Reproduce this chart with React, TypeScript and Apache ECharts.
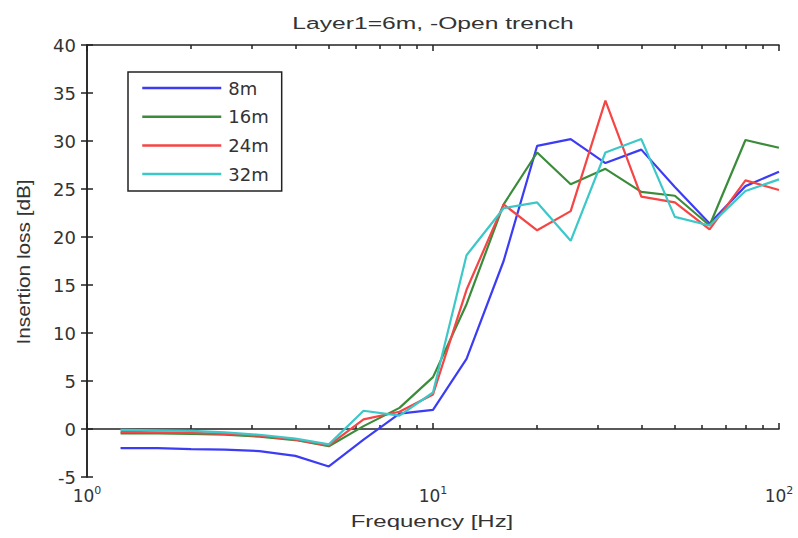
import React, { useEffect, useRef } from 'react';
import * as echarts from 'echarts';

const frequencies = [1.25, 1.6, 2, 2.5, 3.15, 4, 5, 6.3, 8, 10, 12.5, 16, 20, 25, 31.5, 40, 50, 63, 80, 100];
const seriesNames = ['8m', '16m', '24m', '32m'];
const loss8m = [-2.0, -2.0, -2.1, -2.15, -2.3, -2.8, -3.9, -1.1, 1.6, 2.0, 7.3, 17.5, 29.5, 30.2, 27.7, 29.1, 25.2, 21.4, 25.3, 26.8];
const loss16m = [-0.45, -0.45, -0.5, -0.6, -0.8, -1.15, -1.8, 0.3, 2.2, 5.4, 13.0, 23.4, 28.8, 25.5, 27.1, 24.7, 24.3, 21.2, 30.1, 29.3];
const loss24m = [-0.3, -0.35, -0.4, -0.5, -0.7, -1.1, -1.7, 1.0, 1.8, 3.6, 14.5, 23.4, 20.7, 22.7, 34.2, 24.2, 23.6, 20.8, 25.9, 24.9];
const loss32m = [-0.1, -0.15, -0.2, -0.35, -0.6, -1.0, -1.6, 1.9, 1.4, 3.8, 18.1, 23.0, 23.6, 19.6, 28.8, 30.2, 22.1, 21.2, 24.8, 26.0];
const seriesValues = [loss8m, loss16m, loss24m, loss32m];
const seriesColors = ['#3c3cf5', '#3a8c3a', '#f54545', '#3cc8c8'];
const minorTickFreqs = [2, 3, 4, 5, 6, 7, 8, 9, 20, 30, 40, 50, 60, 70, 80, 90];
const titleText = 'Layer1=6m, -Open trench';
const xName = 'Frequency [Hz]';
const yName = 'Insertion loss [dB]';

const FONT = 'Liberation Sans, Arial, sans-serif';
const WIDE = 'DejaVu Sans, sans-serif';
const AXIS_COLOR = '#222';
const TEXT_COLOR = '#333';

export default function App() {
  const ref = useRef<HTMLDivElement>(null);
  useEffect(() => {
    document.body.style.margin = '0';
    if (!ref.current) return;
    const chart = echarts.init(ref.current, undefined, { renderer: 'svg' });
    const minorLog = minorTickFreqs.map((f) => Math.log10(f));
    const lineStyle = { color: AXIS_COLOR, width: 1.5 };
    const option: any = {
      animation: false,
      backgroundColor: '#fff',
      textStyle: { fontFamily: FONT },
      graphic: [
        {
          type: 'text',
          x: 433,
          y: 14,
          scaleX: 1.45,
          style: { text: titleText, textAlign: 'center', textVerticalAlign: 'top', fontSize: 17, fontFamily: FONT, fill: TEXT_COLOR },
        },
        {
          type: 'text',
          x: 432,
          y: 514,
          scaleX: 1.5,
          style: { text: xName, textAlign: 'center', textVerticalAlign: 'top', fontSize: 16, fontFamily: FONT, fill: TEXT_COLOR },
        },
        {
          type: 'text',
          x: 23,
          y: 262,
          rotation: Math.PI / 2,
          scaleX: 1.3,
          scaleY: 1.15,
          style: { text: yName, textAlign: 'center', textVerticalAlign: 'middle', fontSize: 16, fontFamily: FONT, fill: TEXT_COLOR },
        },
      ],
      grid: { left: 87, right: 19, top: 45, bottom: 61, containLabel: false },
      legend: {
        orient: 'vertical',
        left: 128,
        top: 72,
        data: seriesNames,
        itemWidth: 79,
        itemHeight: 18,
        itemGap: 10.7,
        padding: [7, 13, 8, 13],
        borderColor: AXIS_COLOR,
        borderWidth: 1.5,
        backgroundColor: '#fff',
        itemStyle: { opacity: 0 },
        lineStyle: { width: 2.5 },
        textStyle: { fontSize: 18, color: TEXT_COLOR, fontFamily: WIDE, padding: [0, 0, 0, 2] },
      },
      xAxis: [
        {
          type: 'log',
          logBase: 10,
          min: 1,
          max: 100,
          position: 'bottom',
          axisLine: { show: true, lineStyle },
          axisTick: { show: true, inside: true, length: 6, lineStyle },
          splitLine: { show: false },
          axisLabel: {
            margin: 8,
            formatter: (v: number) => `{b|10}{s|${Math.round(Math.log10(v))}}`,
            rich: {
              b: { fontSize: 17, color: TEXT_COLOR, fontFamily: WIDE, lineHeight: 22 },
              s: { fontSize: 11, color: TEXT_COLOR, fontFamily: WIDE, verticalAlign: 'top', lineHeight: 22, padding: [0, 0, 8, 0] },
            },
          },
        },
        {
          type: 'value',
          min: 0,
          max: 2,
          position: 'bottom',
          axisLine: { show: false },
          axisTick: { show: true, inside: true, length: 4, lineStyle, customValues: minorLog },
          axisLabel: { show: false },
          splitLine: { show: false },
        },
        {
          type: 'value',
          min: 0,
          max: 2,
          position: 'top',
          axisLine: { show: true, lineStyle },
          axisTick: { show: true, inside: true, length: 4, lineStyle, customValues: minorLog },
          axisLabel: { show: false },
          splitLine: { show: false },
        },
        {
          type: 'log',
          logBase: 10,
          min: 1,
          max: 100,
          position: 'top',
          axisLine: { show: false },
          axisTick: { show: true, inside: true, length: 6, lineStyle },
          axisLabel: { show: false },
          splitLine: { show: false },
        },
      ],
      yAxis: [
        {
          type: 'value',
          min: -5,
          max: 40,
          interval: 5,
          position: 'left',
          axisLine: { show: true, lineStyle },
          axisTick: { show: true, inside: true, length: 6, lineStyle },
          splitLine: { show: false },
          axisLabel: { fontSize: 18, color: TEXT_COLOR, margin: 11, fontFamily: WIDE },
        },
        {
          type: 'value',
          min: -5,
          max: 40,
          interval: 5,
          position: 'right',
          axisLine: { show: true, lineStyle },
          axisTick: { show: true, inside: true, length: 6, lineStyle },
          splitLine: { show: false },
          axisLabel: { show: false },
        },
      ],
      series: seriesNames.map((name, k) => ({
        name,
        type: 'line',
        xAxisIndex: 0,
        yAxisIndex: 0,
        showSymbol: false,
        symbol: 'none',
        color: seriesColors[k],
        lineStyle: { color: seriesColors[k], width: 2.2 },
        data: frequencies.map((f, i) => [f, seriesValues[k][i]]),
      })),
    };
    chart.setOption(option);
    return () => chart.dispose();
  }, []);
  return <div ref={ref} style={{ width: 798, height: 538, position: 'fixed', left: 0, top: 0 }} />;
}
